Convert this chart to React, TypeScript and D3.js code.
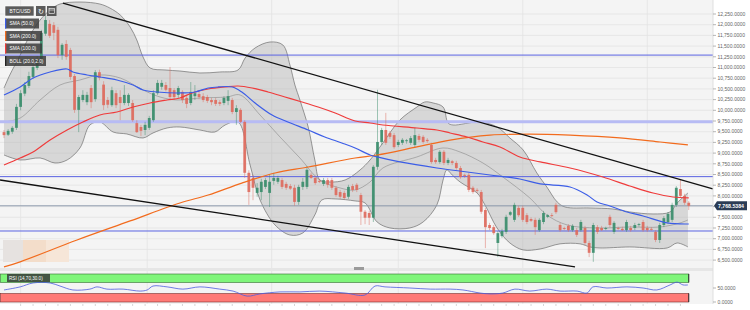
import React from 'react';
import * as d3 from 'd3';

// ---------- DATA ----------
// OHLC candles [open, high, low, close]
const candles: [number, number, number, number][] = [
  [9490,9540,9350,9420],[9430,9560,9400,9520],[9500,9630,9450,9590],[9590,10150,9540,10080],
  [10080,10470,10000,10400],[10390,10660,10330,10590],[10570,10900,10520,10800],[10780,11080,10730,11010],
  [10990,11270,10940,11180],[11180,11880,11130,11810],[11790,12200,11740,12110],[12020,12110,11690,11740],
  [11990,12060,11640,11810],[11880,11950,11220,11290],[11290,11570,11180,11530],[11550,11640,11180,11250],
  [11410,11460,10710,10780],[10800,10850,9940,10010],[10010,10360,9490,10310],[10240,10470,10190,10360],
  [10190,10430,10120,10360],[10520,10590,10050,10190],[10260,10940,10200,10890],[10890,10950,10700,10760],
  [10600,10680,10010,10120],[10240,10310,10050,10130],[10120,10550,10080,10470],[10400,10470,10050,10120],
  [10310,10470,9770,10170],[10170,10590,10120,10360],[10170,10400,10100,10360],[10170,10240,9730,9770],
  [9700,9770,9470,9490],[9610,9660,9400,9520],[9540,9730,9420,9660],[9590,9870,9540,9820],
  [9770,10470,9730,10400],[10400,10710,10360,10640],[10550,10710,10480,10640],[10590,10660,10440,10480],
  [10520,11010,10240,10310],[10470,10520,10240,10310],[10360,10570,10290,10520],[10430,10470,10170,10240],
  [10290,10360,10050,10150],[10170,10660,10120,10430],[10330,10590,10240,10400],[10380,10430,10260,10310],
  [10330,10400,10190,10240],[10310,10360,10170,10220],[10240,10290,10120,10190],[10240,10290,10100,10150],
  [10190,10240,10100,10150],[10170,10330,10120,10290],[10220,10470,10120,10330],[10240,10290,9910,9960],
  [9960,10120,9660,10050],[10010,10050,9700,9730],[9730,9770,8420,8540],[8540,8600,7790,8090],
  [8420,8490,7900,8190],[8070,8300,7980,8190],[8090,8400,7900,8330],[8210,8420,8160,8370],
  [8070,8490,7740,8330],[8350,8540,8260,8420],[8330,8470,8280,8420],[8370,8420,8160,8210],
  [8280,8330,8140,8190],[8230,8280,8140,8170],[8190,8260,7770,7860],[7860,8260,7790,8210],
  [8210,8420,8140,8330],[8210,8700,8160,8610],[8490,8540,8400,8420],[8420,8470,8260,8300],
  [8350,8400,8300,8330],[8280,8420,8230,8370],[8370,8420,8190,8260],[8370,8420,8140,8190],
  [8190,8230,7980,8020],[8090,8140,7930,7980],[8070,8120,7910,7950],[7980,8260,7930,8210],
  [8230,8280,8090,8140],[8260,8300,8090,8140],[8020,8070,7320,7630],[7630,7670,7340,7490],
  [7600,7650,7320,7490],[7490,8720,7390,8680],[8680,10480,8610,9260],[9260,9590,9190,9540],
  [9540,9940,9190,9240],[9470,9520,9330,9380],[9420,9470,9100,9140],[9190,9310,9140,9260],
  [9240,9350,9190,9310],[9280,9330,9220,9300],[9240,9400,9190,9350],[9190,9590,9140,9420],
  [9400,9450,9260,9310],[9380,9420,9220,9260],[9310,9350,9240,9280],[9190,9240,8750,8790],
  [8840,8890,8750,8790],[8790,9070,8750,9030],[9030,9070,8720,8770],[8770,8890,8720,8840],
  [8810,8840,8720,8770],[8770,8820,8610,8650],[8650,8700,8400,8440],[8490,8520,8420,8470],
  [8490,8540,8090,8140],[8190,8230,8050,8090],[8140,8180,8070,8120],[8090,8140,7580,7630],
  [7670,7720,6780,7270],[7320,7370,7200,7250],[7270,7320,7090,7130],[6900,7180,6570,7130],
  [7060,7230,7020,7180],[7160,7560,7110,7510],[7560,7650,7530,7620],[7440,7840,7390,7790],
  [7720,7770,7510,7550],[7720,7770,7390,7440],[7550,7600,7340,7390],[7460,7500,7390,7420],
  [7440,7490,7090,7270],[7200,7480,7160,7440],[7390,7650,7340,7600],[7510,7580,7480,7550],
  [7550,7600,7500,7530],[7790,7840,7580,7620],[7320,7370,7160,7200],[7250,7280,7200,7230],
  [7300,7340,7160,7200],[7200,7340,7160,7300],[7200,7250,7040,7090],[7200,7440,7160,7390],
  [7250,7300,6850,6900],[6900,6950,6570,6670],[6670,7370,6460,7320],[7270,7320,7110,7160],
  [7250,7300,7180,7200],[7230,7280,7200,7250],[7510,7560,7270,7320],[7160,7410,7110,7370],
  [7250,7280,7200,7230],[7230,7280,7180,7200],[7200,7440,7160,7390],[7250,7300,7160,7200],
  [7250,7370,7200,7320],[7320,7370,7280,7340],[7390,7440,7160,7200],[7250,7300,7160,7200],
  [7230,7270,7190,7210],[7160,7200,6920,6970],[6970,7370,6900,7320],[7320,7530,7270,7480],
  [7390,7620,7340,7580],[7440,7840,7390,7790],[7790,8230,7740,8190],[8160,8370,7950,8000],
  [8000,8050,7790,7840],[7840,7880,7670,7768.54],
];

// indicator lines: [candle index, value]
const sma50: [number, number][] = [
  [0,10358],[3.9,10545],[7,10755],[11.1,10895],[15.2,10965],[16.6,10895],[20,10825],[23.1,10778],
  [27.2,10708],[31.1,10591],[33.5,10475],[36.9,10428],[42.4,10405],[46,10428],[49.2,10521],[51.6,10545],
  [55,10545],[57.3,10428],[60.5,10171],[64.6,9890],[68.4,9727],[73.3,9540],[77.3,9377],[81.4,9237],
  [84.6,9120],[88.2,8956],[89.9,8910],[95.4,8793],[104.3,8652],[111.6,8559],[117.1,8489],[124.3,8395],
  [129.2,8279],[136.4,8209],[140.5,8022],[142.9,7858],[146,7765],[150.1,7625],[154,7531],[159.8,7368],[165,7344],
];
const sma100: [number, number][] = [
  [0,8722],[3.9,8886],[7,9026],[11.1,9306],[15.2,9540],[19,9727],[23.1,9890],[27.2,9961],
  [31.1,10077],[35.2,10171],[39.3,10241],[42.4,10288],[45.3,10405],[49.2,10498],[53.3,10545],[56.4,10568],
  [59.8,10521],[63.6,10428],[67.7,10311],[71.8,10194],[75.7,10077],[79.8,9937],[84.6,9750],[88.2,9704],
  [91.3,9657],[99.5,9587],[104.3,9540],[107.5,9470],[111.6,9377],[115.4,9260],[119.5,9143],[124.3,8910],
  [129.2,8793],[136.4,8652],[144.3,8442],[150.8,8232],[156.4,8068],[161.2,7975],[165,7952],
];
const sma200: [number, number][] = [
  [0,6340],[3.9,6460],[17.6,6970],[30.4,7415],[42.4,7835],[49.2,8020],[57.3,8300],[65.3,8535],
  [73.3,8675],[84.6,8885],[89.9,8955],[99.5,9145],[107.5,9305],[117.1,9420],[126.7,9445],[136.4,9420],
  [148.4,9355],[158.1,9260],[164.8,9190],
];
const bollUpper: [number, number][] = [
  [0,10520],[1.4,10825],[3.9,11290],[6.3,11760],[8.7,12110],[11.1,12343],[13.5,12483],[18.3,12530],
  [23.1,12483],[25.5,12390],[28,12227],[30.4,11946],[32,11643],[33.5,11246],[35.2,10989],[38.8,10942],
  [42.4,10918],[47.2,10872],[52,10895],[56.4,10942],[58.1,11222],[60.5,11456],[64.1,11596],[67.2,11526],
  [68.9,11058],[70.1,10591],[71.3,10241],[73.3,9610],[74.9,8839],[76.1,8372],[78.6,8325],[82.2,8372],
  [85.8,8606],[88.2,8839],[91.3,9237],[95.4,9774],[99.5,10077],[101.4,10194],[103.4,10171],[105.8,10077],
  [107,9704],[108.2,9657],[114.7,9727],[118.8,9610],[121.9,9353],[125.1,9073],[128.4,8535],[130.8,8209],
  [133.3,7858],[135.2,7741],[141.2,7718],[146.7,7695],[150.8,7625],[156.4,7578],[160.5,7625],[162.2,7835],
  [164.8,8068],
];
const bollMiddle: [number, number][] = [
  [0,9727],[3.9,9820],[8.7,10241],[13.5,10591],[18.3,10708],[23.1,10825],[28,10755],[33.5,10475],
  [37.6,10311],[41.7,10241],[47.2,10288],[53.7,10311],[56.9,10358],[61.7,9890],[66.5,9377],[71.3,8886],
  [76.1,8372],[81,8185],[84.6,8139],[88.2,8325],[91.3,8652],[99.5,8910],[105.8,9120],[109.9,9026],
  [115.4,8769],[120.2,8442],[126.7,7952],[130.8,7555],[135.7,7321],[142.9,7251],[150.8,7274],[158.1,7274],
  [162.9,7368],[164.8,7438],
];
const bollLower: [number, number][] = [
  [0,8956],[3.9,8839],[8.7,8886],[12.3,8769],[15.2,8839],[18.3,9120],[20.7,9657],[23.1,9727],
  [26.3,9493],[29.6,9447],[33.5,9353],[35.9,9470],[39.3,9587],[42.4,9610],[47.2,9540],[50.8,9493],
  [53.3,9657],[56.4,9727],[59.3,8722],[61.7,7905],[65.3,7321],[68.9,7087],[72,7134],[74.9,7555],
  [76.6,7905],[79.8,7929],[84.6,7882],[87,7835],[89.9,7391],[93,7251],[97.8,7251],[101,7391],
  [104.3,7788],[105.8,8372],[106.7,8606],[108,8489],[109.9,8325],[114,8068],[115.9,7788],[118.8,7251],
  [121.9,6900],[125.1,6737],[129.2,6760],[134,6880],[138.8,6880],[141.2,6807],[143.6,6783],[150.8,6807],
  [159.8,6783],[162.2,6900],[164.8,6807],
];
const rsi: [number, number][] = [
  [0,43],[3.9,54],[7,68],[11.1,68],[13.5,57],[16.6,43],[20.7,46],[22.4,54],[24.8,46],[28.7,46],
  [32.8,39],[34.5,43],[35.9,57],[39.3,54],[43.1,46],[47.2,54],[52,46],[55.2,39],[58.6,21],[61.7,29],
  [66.5,36],[71.3,36],[76.1,39],[82.2,32],[87,25],[89.4,57],[91.8,54],[97.8,50],[102.7,46],[107.5,46],
  [110.6,43],[114.7,32],[117.1,29],[120.2,32],[123.1,46],[126.7,39],[130.8,46],[134,39],[138.1,39],
  [140.5,32],[141.9,54],[145.3,50],[150.1,54],[154,50],[157.3,43],[160.5,61],[162.2,71],[163.6,61],[164.8,61],
];

// horizontal support / resistance levels
const blueLevels = [11290, 8450, 7180];
const lavenderLevels = [9730];
const lastPrice = 7768.5384;

// trend lines [[index, price], [index, price]]
const trendLines: [number, number][][] = [
  [[14.2, 12507], [170.8, 8162]],
  [[-0.96, 8372], [137.6, 6340]],
];

const yTickValues = [6500,6750,7000,7250,7500,7750,8000,8250,8500,8750,9000,9250,9500,9750,
  10000,10250,10500,10750,11000,11250,11500,11750,12000,12250];
const rsiTickValues = [0, 50];
const xGridIdx = [4, 34.5, 64.5, 95, 125, 155];

const legendItems = [
  { label: 'SMA (50.0)', color: '#3b5de7' },
  { label: 'SMA (200.0)', color: '#f26b1d' },
  { label: 'SMA (100.0)', color: '#ef3b3b' },
  { label: 'BOLL (20.0,2.0)', color: '#222222' },
];

export default function App() {
  const PLOT_R = 713;
  const MAIN_B = 268;
  const RSI_T = 271;
  const RSI_B = 304;

  const xs = d3.scaleLinear().domain([0, 165]).range([4, 688.75]);
  const ys = d3.scaleLinear().domain([6500, 12250]).range([260.1, 14]);
  const yr = d3.scaleLinear().domain([0, 100]).range([302, 274]);

  const curve = d3.curveCatmullRom.alpha(0.5);
  const mainLine = d3.line<[number, number]>().x(d => xs(d[0])).y(d => ys(d[1])).curve(curve);
  const rsiLine = d3.line<[number, number]>().x(d => xs(d[0])).y(d => yr(d[1])).curve(curve);

  const upperPath = mainLine(bollUpper) || '';
  const lowerRev = (mainLine(bollLower.slice().reverse()) || '').replace(/^M/, 'L');
  const bandArea = upperPath + lowerRev + 'Z';

  const bodyW = 2.8;
  const green = '#3a8d6c';
  const red = '#de6a5d';
  const fmt = d3.format(',.4f');
  const minorTicks = d3.range(4, 166, 3);

  return (
    <svg width={750} height={310} style={{ position: 'absolute', left: 0, top: 0, fontFamily: 'Liberation Sans, Arial, sans-serif' }}>
      <defs>
        <clipPath id="mainClip"><rect x={0} y={0} width={PLOT_R} height={MAIN_B} /></clipPath>
        <clipPath id="rsiClip"><rect x={0} y={RSI_T} width={PLOT_R} height={RSI_B - RSI_T} /></clipPath>
      </defs>
      <rect x={0} y={0} width={750} height={310} fill="#ffffff" />
      <rect x={0} y={0} width={PLOT_R} height={MAIN_B} fill="#f4f4f4" />
      <rect x={0} y={MAIN_B} width={PLOT_R} height={RSI_T - MAIN_B} fill="#e6e6e6" />
      <rect x={0} y={RSI_T} width={PLOT_R} height={RSI_B - RSI_T} fill="#f4f4f4" />

      {/* grid */}
      <g clipPath="url(#mainClip)">
        {yTickValues.map(v => (
          <line key={v} x1={0} x2={PLOT_R} y1={ys(v)} y2={ys(v)} stroke="#e3e3e3" strokeWidth={0.8} />
        ))}
        {xGridIdx.map(i => (
          <line key={i} x1={xs(i)} x2={xs(i)} y1={0} y2={MAIN_B} stroke="#e3e3e3" strokeWidth={0.8} />
        ))}
      </g>
      <g clipPath="url(#rsiClip)">
        {xGridIdx.map(i => (
          <line key={i} x1={xs(i)} x2={xs(i)} y1={RSI_T} y2={RSI_B} stroke="#e3e3e3" strokeWidth={0.8} />
        ))}
      </g>

      {/* bottom-left placeholder boxes */}
      <rect x={3} y={240} width={20} height={22} fill="#e6e2e0" />
      <rect x={23} y={240} width={23} height={22} fill="#f3ddca" />
      <rect x={46} y={240} width={23} height={22} fill="#f6e6d8" />

      <g clipPath="url(#mainClip)">
        {/* bollinger band */}
        <path d={bandArea} fill="#b4b4b4" fillOpacity={0.45} stroke="none" />
        <path d={upperPath} fill="none" stroke="#6f6f6f" strokeWidth={0.7} />
        <path d={mainLine(bollLower) || ''} fill="none" stroke="#6f6f6f" strokeWidth={0.7} />
        <path d={mainLine(bollMiddle) || ''} fill="none" stroke="#8a8a8a" strokeWidth={0.6} />

        {/* horizontal levels */}
        {lavenderLevels.map(v => (
          <line key={v} x1={0} x2={PLOT_R} y1={ys(v)} y2={ys(v)} stroke="#b7bbf4" strokeWidth={3} />
        ))}
        {blueLevels.map(v => (
          <line key={v} x1={0} x2={PLOT_R} y1={ys(v)} y2={ys(v)} stroke="#5a63e2" strokeWidth={1} />
        ))}
        <line x1={0} x2={PLOT_R} y1={ys(lastPrice)} y2={ys(lastPrice)} stroke="#8d9aad" strokeWidth={1} />

        {/* candles */}
        {candles.map((c, i) => {
          const [o, h, l, cl] = c;
          const up = cl >= o;
          const col = up ? green : red;
          const x = xs(i);
          const top = ys(Math.max(o, cl));
          const bot = ys(Math.min(o, cl));
          return (
            <g key={i}>
              <line x1={x} x2={x} y1={ys(h)} y2={ys(l)} stroke={col} strokeOpacity={0.6} strokeWidth={0.8} />
              <rect x={x - bodyW / 2} y={top} width={bodyW} height={Math.max(0.9, bot - top)} fill={col} fillOpacity={0.9} />
            </g>
          );
        })}

        {/* moving averages */}
        <path d={mainLine(sma200) || ''} fill="none" stroke="#f26b1d" strokeWidth={1.2} />
        <path d={mainLine(sma100) || ''} fill="none" stroke="#ef3b3b" strokeWidth={1.2} />
        <path d={mainLine(sma50) || ''} fill="none" stroke="#3b5de7" strokeWidth={1.2} />

        {/* trend lines */}
        {trendLines.map((t, k) => (
          <line key={k} x1={xs(t[0][0])} y1={ys(t[0][1])} x2={xs(t[1][0])} y2={ys(t[1][1])} stroke="#111" strokeWidth={1.3} />
        ))}
      </g>

      {/* scroll handle */}
      <rect x={354} y={267} width={10} height={3} fill="#9a9a9a" />

      {/* right axis */}
      <line x1={PLOT_R} x2={PLOT_R} y1={0} y2={RSI_B} stroke="#d8d8d8" strokeWidth={0.8} />
      {yTickValues.map(v => (
        <g key={v}>
          <line x1={PLOT_R} x2={PLOT_R + 3} y1={ys(v)} y2={ys(v)} stroke="#888" strokeWidth={0.6} />
          <text x={PLOT_R + 4.5} y={ys(v)} dy="0.35em" fontSize={5} fill="#666">{fmt(v)}</text>
        </g>
      ))}
      {/* last price label */}
      <path d={`M${PLOT_R + 1},${ys(lastPrice)} L${PLOT_R + 4},${ys(lastPrice) - 4.5} L${747},${ys(lastPrice) - 4.5} L${747},${ys(lastPrice) + 4.5} L${PLOT_R + 4},${ys(lastPrice) + 4.5} Z`} fill="#2b3c55" />
      <text x={PLOT_R + 5} y={ys(lastPrice)} dy="0.35em" fontSize={5.2} fontWeight="bold" fill="#ffffff">{fmt(lastPrice)}</text>

      {/* RSI panel */}
      <g clipPath="url(#rsiClip)">
        <rect x={0.5} y={yr(100)} width={xs(165) - 0.5} height={yr(70) - yr(100)} fill="#7ff57a" stroke="#2f6d2c" strokeWidth={0.6} />
        <rect x={0.5} y={yr(30)} width={xs(165) - 0.5} height={yr(0) - yr(30)} fill="#ff7a76" stroke="#7a2b28" strokeWidth={0.6} />
        <line x1={xs(165)} x2={xs(165)} y1={yr(100)} y2={yr(70)} stroke="#333" strokeWidth={1} />
        <line x1={xs(165)} x2={xs(165)} y1={yr(30)} y2={yr(0)} stroke="#333" strokeWidth={1} />
        <path d={rsiLine(rsi) || ''} fill="none" stroke="#4b5ce0" strokeWidth={0.8} />
      </g>
      {rsiTickValues.map(v => (
        <g key={v}>
          <line x1={PLOT_R} x2={PLOT_R + 3} y1={yr(v)} y2={yr(v)} stroke="#888" strokeWidth={0.6} />
          <text x={PLOT_R + 4.5} y={yr(v)} dy="0.35em" fontSize={5} fill="#666">{fmt(v)}</text>
        </g>
      ))}
      {minorTicks.map(i => (
        <line key={i} x1={xs(i)} x2={xs(i)} y1={RSI_B} y2={RSI_B + 2} stroke="#bbb" strokeWidth={0.6} />
      ))}
      <rect x={7} y={274} width={43} height={8} fill="#3a3a3a" fillOpacity={0.85} />
      <text x={9} y={278} dy="0.35em" fontSize={4.6} fill="#fff">RSI (14,70,30.0)</text>

      {/* legend */}
      <rect x={5} y={6} width={29} height={10} fill="#4a4a4a" fillOpacity={0.9} stroke="#ffffff" strokeWidth={0.6} />
      <text x={9.5} y={11} dy="0.35em" fontSize={4.8} fill="#fff">BTC/USD</text>
      <rect x={36} y={6} width={9.5} height={10} fill="#4a4a4a" fillOpacity={0.9} />
      <text x={40.75} y={11} dy="0.38em" fontSize={7} fill="#fff" textAnchor="middle">↻</text>
      <rect x={47} y={6} width={9.5} height={10} fill="#4a4a4a" fillOpacity={0.9} />
      <rect x={49} y={8.5} width={5.5} height={5} fill="none" stroke="#fff" strokeWidth={0.6} />
      <line x1={49} x2={54.5} y1={10} y2={10} stroke="#fff" strokeWidth={0.6} />
      {legendItems.map((it, k) => {
        const y0 = 18.5 + k * 12.5;
        const w = k === 3 ? 41 : k === 0 ? 34 : 37;
        return (
          <g key={it.label}>
            <rect x={5} y={y0} width={w} height={10} fill="#3c3c3c" fillOpacity={0.85} />
            <rect x={5} y={y0} width={1.3} height={10} fill={it.color} />
            <text x={9.5} y={y0 + 5} dy="0.35em" fontSize={4.8} fill="#fff">{it.label}</text>
          </g>
        );
      })}
    </svg>
  );
}
